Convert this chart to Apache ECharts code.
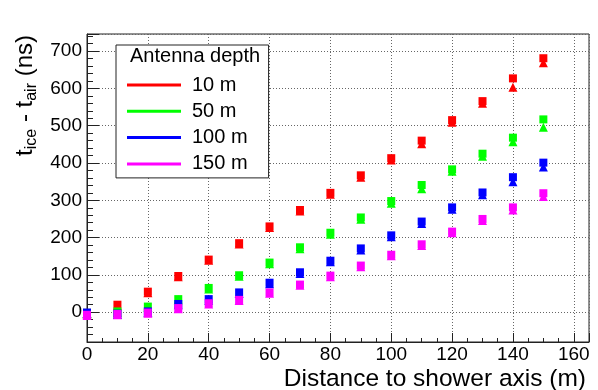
<!DOCTYPE html>
<html>
<head>
<meta charset="utf-8">
<script src="https://cdn.jsdelivr.net/npm/echarts@6/dist/echarts.min.js"></script>
<style>
html,body{margin:0;padding:0;background:#fff;}
#chart{width:598px;height:390px;}
</style>
</head>
<body>
<div id="chart"></div>
<script>
// Distance to shower axis (m)
const distances = [0, 10, 20, 30, 40, 50, 60, 70, 80, 90, 100, 110, 120, 130, 140, 150];
// Antenna depth labels
const depthLabels = ['10 m', '50 m', '100 m', '150 m'];
const depthColors = ['#ff0000', '#00ff00', '#0000ff', '#ff00ff'];
// square markers (t_ice - t_air, ns)
const sq10 = [-2, 20, 55, 97, 141, 185, 230, 274, 320, 367, 413, 460, 515, 566, 627, 681];
const sq50 = [-2, 2, 15, 35, 65, 99, 133, 174, 213, 254, 298, 341, 383, 425, 468, 517];
const sq100 = [-1, -4, 2, 22, 35, 53, 79, 107, 138, 171, 206, 243, 281, 321, 362, 401];
const sq150 = [-7, -5, -1, 11, 24, 33, 53, 74, 98, 125, 154, 182, 216, 250, 281, 319];
// triangle markers (t_ice - t_air, ns)
const tri10 = [-4, 17, 52, 95, 139, 183, 227, 271, 316, 362, 408, 452, 509, 560, 603, 669];
const tri50 = [-4, 0, 13, 33, 62, 96, 130, 170, 209, 249, 292, 331, 378, 418, 457, 496];
const tri100 = [-3, -6, 0, 20, 32, 50, 76, 104, 135, 167, 202, 238, 276, 315, 350, 389];
const tri150 = [-9, -7, -3, 9, 22, 31, 51, 72, 95, 122, 151, 179, 213, 246, 274, 310];
// axis tick labels
const xTickLabels = ['0', '20', '40', '60', '80', '100', '120', '140', '160'];
const yTickLabels = ['0', '100', '200', '300', '400', '500', '600', '700'];

const sqSets = [sq10, sq50, sq100, sq150];
const triSets = [tri10, tri50, tri100, tri150];
const zip = (ys) => distances.map((x, i) => [x, ys[i]]);

const FONT = 'Liberation Sans';
const series = [];
for (let k = 0; k < 4; k++) {
  series.push({
    type: 'scatter', name: depthLabels[k] + ' tri', data: zip(triSets[k]),
    symbol: 'triangle', symbolSize: 9, z: 2 + k * 2,
    itemStyle: { color: depthColors[k], opacity: 1 }, emphasis: { disabled: true }
  });
  series.push({
    type: 'scatter', name: depthLabels[k], data: zip(sqSets[k]),
    symbol: 'rect', symbolSize: 8, z: 3 + k * 2,
    itemStyle: { color: depthColors[k], opacity: 1 }, emphasis: { disabled: true }
  });
}

const chart = echarts.init(document.getElementById('chart'), null, { renderer: 'canvas' });
chart.setOption({
  animation: false,
  backgroundColor: '#fff',
  grid: { left: 87, right: 9, top: 34, bottom: 48, show: true, borderColor: '#222', borderWidth: 1,
    backgroundColor: 'transparent', containLabel: false, outerBoundsMode: 'none' },
  xAxis: {
    type: 'value', min: 0, max: 165, interval: 20,
    name: 'Distance to shower axis (m)', nameLocation: 'end', nameGap: -3,
    nameTextStyle: { fontFamily: FONT, fontSize: 24.5, color: '#000', align: 'right', verticalAlign: 'top', padding: [25, 0, 0, 0] },
    axisLine: { show: true, onZero: false, lineStyle: { color: '#222', width: 1 } },
    axisTick: { show: true, inside: true, length: 9, lineStyle: { color: '#222' } },
    minorTick: { show: true, splitNumber: 4, length: 4, lineStyle: { color: '#222' } },
    axisLabel: { fontFamily: FONT, fontSize: 19, color: '#000', margin: 3, showMaxLabel: false,
      formatter: (v) => xTickLabels.indexOf(String(v)) >= 0 ? String(v) : '' },
    splitLine: { show: true, lineStyle: { color: '#666', width: 1, type: [1, 2] } },
    minorSplitLine: { show: false }
  },
  yAxis: {
    type: 'value', min: -80, max: 746, splitNumber: 8,
    name: '{m|t}{s|ice}{m| - t}{s|air}{m| (ns)}', nameLocation: 'end', nameRotate: 90, nameGap: -1,
    nameTextStyle: { fontFamily: FONT, color: '#000', align: 'right', verticalAlign: 'middle', padding: [0, 0, 124, 0],
      rich: {
        m: { fontFamily: FONT, fontSize: 24, lineHeight: 30, color: '#000', verticalAlign: 'middle' },
        s: { fontFamily: FONT, fontSize: 16, lineHeight: 16, color: '#000', verticalAlign: 'bottom' }
      } },
    axisLine: { show: true, onZero: false, lineStyle: { color: '#222', width: 1 } },
    axisTick: { show: true, inside: true, length: 12, lineStyle: { color: '#222' } },
    minorTick: { show: true, splitNumber: 5, length: 6, lineStyle: { color: '#222' } },
    axisLabel: { fontFamily: FONT, fontSize: 19, color: '#000', margin: 5, showMinLabel: false, showMaxLabel: false,
      formatter: (v) => yTickLabels.indexOf(String(v)) >= 0 ? String(v) : '' },
    splitLine: { show: true, lineStyle: { color: '#666', width: 1, type: [1, 2] } },
    minorSplitLine: { show: false }
  },
  legend: {
    show: true, orient: 'vertical', left: 116, top: 45,
    padding: [30, 21, 4, 11], itemGap: 6.3, itemWidth: 54, itemHeight: 3,
    borderColor: '#222', borderWidth: 1, backgroundColor: '#fff',
    icon: 'rect', selectedMode: false,
    textStyle: { fontFamily: FONT, fontSize: 20, color: '#000', lineHeight: 20, padding: [0, 0, 0, 6] },
    data: depthLabels
  },
  graphic: [{
    type: 'text', left: 130, top: 46, z: 100,
    style: { text: 'Antenna depth', fontFamily: FONT, fontSize: 20, fill: '#000' }
  }],
  series: series
});
</script>
</body>
</html>
